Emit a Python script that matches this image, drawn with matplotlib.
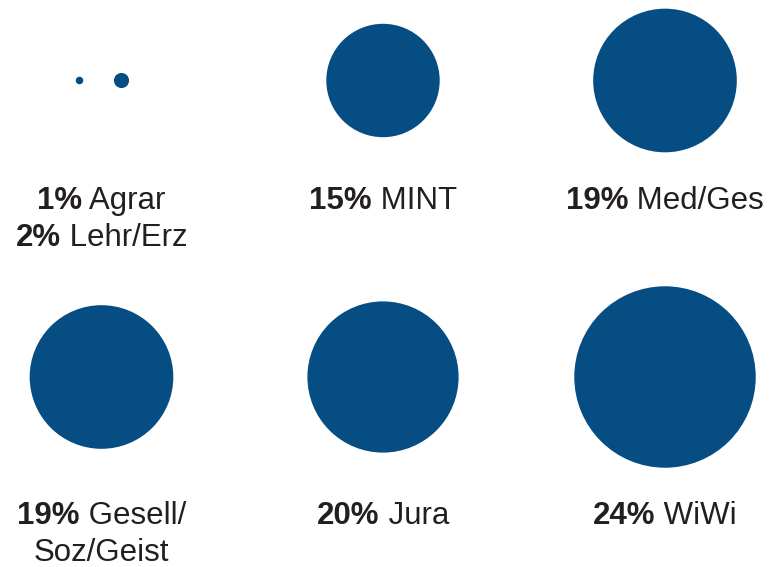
import matplotlib
matplotlib.use("Agg")
import matplotlib.pyplot as plt
from matplotlib.patches import Circle

# ---- data ----
categories = ["Agrar", "Lehr/Erz", "MINT", "Med/Ges", "Gesell/\nSoz/Geist", "Jura", "WiWi"]
shares = [1, 2, 15, 19, 19, 20, 24]
# which categories share a panel (panel order: row-major, 3 columns x 2 rows)
panels = [[0, 1], [2], [3], [4], [5], [6]]

# ---- style / layout ----
W, H = 776, 567
COLOR = "#064D84"
TEXT = "#231F20"
PX_PER_PCT = 3.78          # circle radius in pixels per percent
col_x = [101.5, 383, 665]
row_y = [80.5, 377]
label_base = [209, 524]
line_gap = 37
pair_offsets = [-22, 20]
FS = 22.5
FONT = "Liberation Sans"

fig = plt.figure(figsize=(W / 100, H / 100), dpi=100)
ax = fig.add_axes([0, 0, 1, 1])
ax.set_xlim(0, W)
ax.set_ylim(H, 0)
ax.set_aspect("equal")
ax.axis("off")

lines_to_place = []  # (x_center, y_baseline, bold, normal)
for p, idxs in enumerate(panels):
    cx = col_x[p % 3]
    cy = row_y[p // 3]
    offs = pair_offsets if len(idxs) > 1 else [0]
    for k, i in enumerate(idxs):
        ax.add_patch(Circle((cx + offs[k], cy), shares[i] * PX_PER_PCT,
                            facecolor=COLOR, edgecolor="none"))
    text_lines = []
    for i in idxs:
        parts = categories[i].split("\n")
        text_lines.append((f"{shares[i]}%", " " + parts[0]))
        for extra in parts[1:]:
            text_lines.append(("", extra))
    for j, (b, n) in enumerate(text_lines):
        lines_to_place.append((cx, label_base[p // 3] + j * line_gap, b, n))

fig.canvas.draw()
renderer = fig.canvas.get_renderer()
for cx, yb, b, n in lines_to_place:
    tb = ax.text(0, yb, b, fontsize=FS, fontweight="bold", family=FONT,
                 color=TEXT, va="baseline", ha="left")
    tn = ax.text(0, yb, n, fontsize=FS, family=FONT, color=TEXT,
                 va="baseline", ha="left")
    wb = tb.get_window_extent(renderer).width if b else 0.0
    wn = tn.get_window_extent(renderer).width
    x0 = cx - (wb + wn) / 2
    tb.set_x(x0)
    tn.set_x(x0 + wb)

fig.savefig("out.png", dpi=100, facecolor="white")
